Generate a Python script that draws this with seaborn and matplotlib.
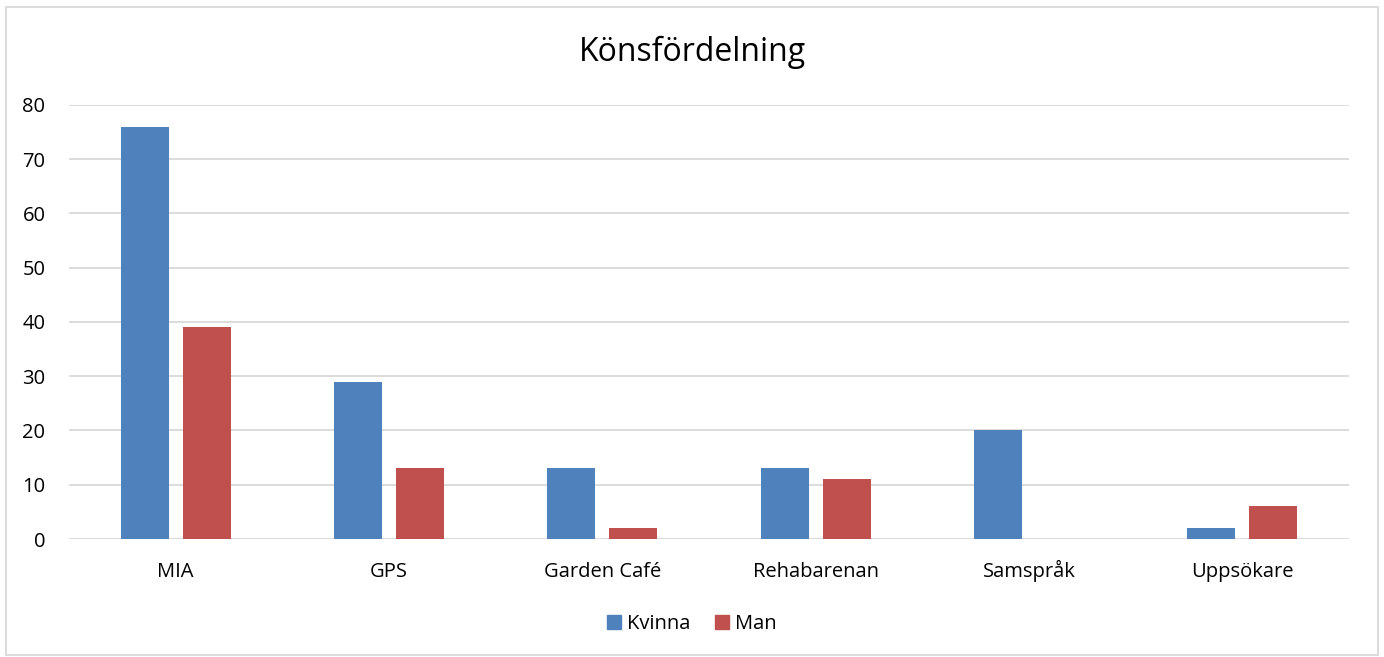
import pandas as pd
import matplotlib.pyplot as plt
import seaborn as sns
from matplotlib.patches import Rectangle

# Chart data
categories = ["MIA", "GPS", "Garden Café", "Rehabarenan", "Samspråk", "Uppsökare"]
kvinna = [76, 29, 13, 13, 20, 2]
man = [39, 13, 2, 11, 0, 6]
series_names = ["Kvinna", "Man"]
colors = ["#4F81BD", "#C0504D"]

# Long format table for seaborn
df = pd.DataFrame({
    "Program": categories * 2,
    "Antal": kvinna + man,
    "Kön": [series_names[0]] * len(categories) + [series_names[1]] * len(categories),
})

sns.set_style("white")
plt.rcParams["font.family"] = ["Open Sans", "DejaVu Sans"]
plt.rcParams["text.color"] = "black"

fig = plt.figure(figsize=(13.84, 6.57), dpi=100)
ax = fig.add_axes([0.0499, 0.1796, 0.9249, 0.6606])

sns.barplot(data=df, x="Program", y="Antal", hue="Kön", palette=colors,
            width=0.581, gap=0.226, ax=ax, legend=False, saturation=1,
            linewidth=0)

ax.set_ylim(0, 80)
ax.set_yticks(range(0, 81, 10))
ax.set_xlim(-0.5, len(categories) - 0.5)
ax.yaxis.grid(True, color="#D9D9D9", linewidth=1.3)
ax.set_axisbelow(True)
for s in ax.spines.values():
    s.set_visible(False)
ax.set_xlabel("")
ax.set_ylabel("")
ax.tick_params(axis="both", length=0, labelsize=14.5, colors="#000000")
ax.tick_params(axis="y", pad=17)
ax.tick_params(axis="x", pad=27.5)
# keep the category labels on one baseline
for lbl in ax.get_xticklabels():
    lbl.set_verticalalignment("baseline")

fig.text(0.5, 0.92, "Könsfördelning", ha="center", va="center", fontsize=23)

handles = [Rectangle((0, 0), 1, 1, color=c) for c in colors]
fig.legend(handles, series_names, loc="center", bbox_to_anchor=(0.5, 0.050),
           ncol=2, frameon=False, fontsize=14.5, handlelength=0.7, handleheight=0.7,
           handletextpad=0.3, columnspacing=1.2)

# Light chart border
fig.patches.append(Rectangle((0.004, 0.003), 0.992, 0.986, transform=fig.transFigure,
                             fill=False, edgecolor="#D9D9D9", linewidth=1.3))

fig.savefig("out.png", dpi=100)
